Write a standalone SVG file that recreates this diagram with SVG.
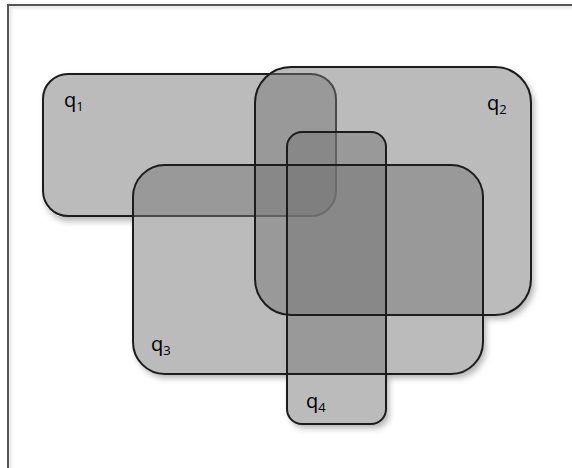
<svg xmlns="http://www.w3.org/2000/svg" width="572" height="468" viewBox="0 0 572 468">
  <defs>
    <style>
      .region { fill: #777777; fill-opacity: 0.5; }
      .edge { fill: none; stroke: #1c1c1c; stroke-width: 2; }
      .label { font-family: "Open Sans", "Liberation Sans", sans-serif; font-size: 20px; fill: #000; }
      .sub { font-size: 13px; }
      .frame { fill: none; stroke: #555; stroke-width: 2; }
    </style>
    <!-- soft shadow cast only outside the union of the shapes -->
    <filter id="outerShadow" x="-10%" y="-10%" width="130%" height="130%">
      <feComponentTransfer in="SourceAlpha" result="solid">
        <feFuncA type="linear" slope="50" intercept="0"/>
      </feComponentTransfer>
      <feGaussianBlur in="solid" stdDeviation="3" result="blur"/>
      <feOffset in="blur" dx="3" dy="4" result="off"/>
      <feComposite in="off" in2="solid" operator="out" result="outside"/>
      <feColorMatrix in="outside" type="matrix" values="0 0 0 0 0  0 0 0 0 0  0 0 0 0 0  0 0 0 0.3 0" result="shadow"/>
      <feMerge>
        <feMergeNode in="shadow"/>
        <feMergeNode in="SourceGraphic"/>
      </feMerge>
    </filter>
    <filter id="frameShadow" x="-5%" y="-5%" width="110%" height="110%">
      <feDropShadow dx="2" dy="2" stdDeviation="1.5" flood-color="#000" flood-opacity="0.15"/>
    </filter>
  </defs>

  <rect width="572" height="468" fill="#ffffff"/>

  <!-- page frame -->
  <path class="frame" d="M8,468 V5 H572" filter="url(#frameShadow)"/>

  <g filter="url(#outerShadow)">
    <g id="q1">
      <rect class="region" x="43" y="74" width="293" height="142" rx="25"/>
      <rect class="edge" x="43" y="74" width="293" height="142" rx="25"/>
    </g>
    <g id="q2">
      <rect class="region" x="255" y="67" width="276" height="248" rx="36"/>
    </g>
    <g id="q3">
      <rect class="region" x="133" y="165" width="350" height="209" rx="32"/>
    </g>
    <g id="q4">
      <rect class="region" x="287" y="132" width="99" height="292" rx="15"/>
    </g>
  </g>

  <!-- outlines of the upper shapes stay crisp on top -->
  <g id="outlines">
    <rect class="edge" x="255" y="67" width="276" height="248" rx="36"/>
    <rect class="edge" x="133" y="165" width="350" height="209" rx="32"/>
    <rect class="edge" x="287" y="132" width="99" height="292" rx="15"/>
  </g>

  <g id="labels">
    <text class="label" x="64" y="107">q<tspan class="sub" dy="4">1</tspan></text>
    <text class="label" x="487" y="110">q<tspan class="sub" dy="4">2</tspan></text>
    <text class="label" x="151" y="351">q<tspan class="sub" dy="4">3</tspan></text>
    <text class="label" x="306" y="408">q<tspan class="sub" dy="4">4</tspan></text>
  </g>
</svg>
